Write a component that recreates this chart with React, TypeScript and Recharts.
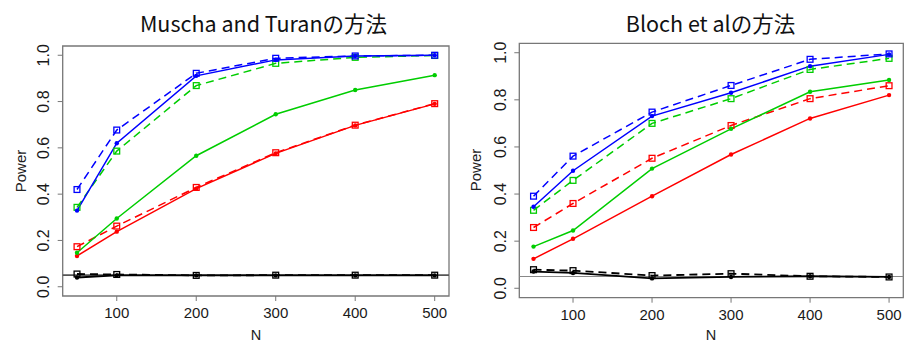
import React from "react";
import { LineChart, Line, XAxis, YAxis, ReferenceArea, ReferenceLine } from "recharts";

const sampleSizes = [50, 100, 200, 300, 400, 500];
const xTicks = [100, 200, 300, 400, 500];
const yTicks = [0, 0.2, 0.4, 0.6, 0.8, 1.0];
const alphaLevel = 0.05;
const titles = ["Muscha and Turanの方法", "Bloch et alの方法"];

// Panel 1: Muscha and Turan
const mtBlackSolid = [0.04, 0.049, 0.049, 0.049, 0.049, 0.049];
const mtBlackDashed = [0.055, 0.053, 0.049, 0.05, 0.05, 0.05];
const mtRedSolid = [0.133, 0.238, 0.424, 0.576, 0.697, 0.79];
const mtRedDashed = [0.173, 0.262, 0.429, 0.579, 0.698, 0.791];
const mtGreenSolid = [0.147, 0.295, 0.566, 0.745, 0.85, 0.914];
const mtGreenDashed = [0.343, 0.586, 0.869, 0.965, 0.991, 0.999];
const mtBlueSolid = [0.329, 0.62, 0.911, 0.98, 0.997, 1.0];
const mtBlueDashed = [0.42, 0.677, 0.922, 0.987, 0.997, 1.0];

// Panel 2: Bloch et al
const bBlackSolid = [0.071, 0.065, 0.042, 0.048, 0.051, 0.048];
const bBlackDashed = [0.079, 0.075, 0.054, 0.062, 0.051, 0.048];
const bRedSolid = [0.125, 0.21, 0.391, 0.568, 0.721, 0.82];
const bRedDashed = [0.258, 0.36, 0.552, 0.691, 0.805, 0.86];
const bGreenSolid = [0.177, 0.245, 0.508, 0.677, 0.834, 0.884];
const bGreenDashed = [0.331, 0.458, 0.7, 0.805, 0.929, 0.976];
const bBlueSolid = [0.346, 0.499, 0.731, 0.83, 0.943, 0.993];
const bBlueDashed = [0.391, 0.561, 0.748, 0.861, 0.972, 0.995];

const BLACK = "#000000";
const RED = "#FF0000";
const GREEN = "#00CD00";
const BLUE = "#0000FF";

type Series = { key: string; color: string; dashed: boolean; values: number[] };

const panel1Series: Series[] = [
  { key: "blackSolid", color: BLACK, dashed: false, values: mtBlackSolid },
  { key: "blackDashed", color: BLACK, dashed: true, values: mtBlackDashed },
  { key: "redSolid", color: RED, dashed: false, values: mtRedSolid },
  { key: "redDashed", color: RED, dashed: true, values: mtRedDashed },
  { key: "greenSolid", color: GREEN, dashed: false, values: mtGreenSolid },
  { key: "greenDashed", color: GREEN, dashed: true, values: mtGreenDashed },
  { key: "blueSolid", color: BLUE, dashed: false, values: mtBlueSolid },
  { key: "blueDashed", color: BLUE, dashed: true, values: mtBlueDashed },
];

const panel2Series: Series[] = [
  { key: "blackSolid", color: BLACK, dashed: false, values: bBlackSolid },
  { key: "blackDashed", color: BLACK, dashed: true, values: bBlackDashed },
  { key: "redSolid", color: RED, dashed: false, values: bRedSolid },
  { key: "redDashed", color: RED, dashed: true, values: bRedDashed },
  { key: "greenSolid", color: GREEN, dashed: false, values: bGreenSolid },
  { key: "greenDashed", color: GREEN, dashed: true, values: bGreenDashed },
  { key: "blueSolid", color: BLUE, dashed: false, values: bBlueSolid },
  { key: "blueDashed", color: BLUE, dashed: true, values: bBlueDashed },
];

const buildData = (series: Series[]) =>
  sampleSizes.map((n, i) => {
    const row: Record<string, number> = { N: n };
    series.forEach((s) => {
      row[s.key] = s.values[i];
    });
    return row;
  });

const TICK_FONT = "'Liberation Sans', Arial, sans-serif";

const makeDot = (color: string, square: boolean) => (props: any) => {
  const { cx, cy, index } = props;
  if (cx == null || cy == null) return <g key={index} />;
  if (square) {
    return (
      <rect
        key={index}
        x={cx - 2.9}
        y={cy - 2.9}
        width={5.8}
        height={5.8}
        fill="none"
        stroke={color}
        strokeWidth={1.3}
      />
    );
  }
  return <circle key={index} cx={cx} cy={cy} r={2.2} fill={color} stroke="none" />;
};

const YTick = (props: any) => {
  const { x, y, payload } = props;
  const tx = x - 12;
  return (
    <text
      x={tx}
      y={y}
      transform={`rotate(-90 ${tx} ${y})`}
      textAnchor="middle"
      dominantBaseline="central"
      fontFamily={TICK_FONT}
      fontSize={16}
      fill="#1a1a1a"
    >
      {Number(payload.value).toFixed(1)}
    </text>
  );
};

const XTick = (props: any) => {
  const { x, y, payload } = props;
  return (
    <text
      x={x}
      y={y + 15}
      textAnchor="middle"
      fontFamily={TICK_FONT}
      fontSize={15}
      fill="#1a1a1a"
    >
      {payload.value}
    </text>
  );
};

type PanelProps = {
  series: Series[];
  left: number;
  width: number;
  margin: { top: number; right: number; bottom: number; left: number };
  refColor: string;
  refWidth: number;
};

const Panel = ({ series, left, width, margin, refColor, refWidth }: PanelProps) => {
  const data = buildData(series);
  return (
    <div style={{ position: "absolute", left, top: 0, width, height: 345 }}>
      <LineChart width={width} height={345} data={data} margin={margin}>
        <XAxis
          dataKey="N"
          type="number"
          domain={[32, 518]}
          ticks={xTicks}
          allowDataOverflow
          axisLine={false}
          tickLine={{ stroke: "#777", strokeWidth: 1 }}
          tickSize={5}
          tickMargin={2}
          tick={<XTick />}
          height={40}
          interval={0}
        />
        <YAxis
          type="number"
          domain={[-0.04, 1.04]}
          ticks={yTicks}
          allowDataOverflow
          axisLine={false}
          tickLine={{ stroke: "#777", strokeWidth: 1 }}
          tickSize={5}
          tickMargin={2}
          tick={<YTick />}
          width={40}
          interval={0}
        />
        <ReferenceArea
          x1={32}
          x2={518}
          y1={-0.04}
          y2={1.04}
          fill="none"
          fillOpacity={0}
          stroke="#777"
          strokeWidth={1.3}
          ifOverflow="visible"
        />
        <ReferenceLine y={alphaLevel} stroke={refColor} strokeWidth={refWidth} ifOverflow="visible" />
        {series.map((s) => (
          <Line
            key={s.key}
            dataKey={s.key}
            type="linear"
            stroke={s.color}
            strokeWidth={s.color === BLACK ? 1.8 : 1.5}
            strokeDasharray={s.dashed ? "8 5" : undefined}
            dot={makeDot(s.color, s.dashed)}
            activeDot={false}
            isAnimationActive={false}
          />
        ))}
      </LineChart>
    </div>
  );
};

const textStyle = { fontFamily: TICK_FONT, fill: "#222" };

export default function App() {
  return (
    <div
      style={{
        position: "absolute",
        left: 0,
        top: 0,
        width: 905,
        height: 345,
        background: "#fff",
        overflow: "hidden",
      }}
    >
      <Panel
        series={panel1Series}
        left={0}
        width={455}
        margin={{ top: 46, right: 6, bottom: 9, left: 22.7 }}
        refColor="#555"
        refWidth={1.6}
      />
      <Panel
        series={panel2Series}
        left={455}
        width={450}
        margin={{ top: 43.3, right: 1.7, bottom: 7.3, left: 24.3 }}
        refColor="#888"
        refWidth={1.1}
      />
      <svg
        width={905}
        height={345}
        style={{ position: "absolute", left: 0, top: 0, pointerEvents: "none" }}
      >
        <text
          x={263.5}
          y={32.3}
          textAnchor="middle"
          fontFamily="'Noto Sans CJK JP', 'Noto Sans', sans-serif"
          fontSize={21.5}
          fill="#111"
        >
          {titles[0]}
        </text>
        <text
          x={710.5}
          y={32.3}
          textAnchor="middle"
          fontFamily="'Noto Sans CJK JP', 'Noto Sans', sans-serif"
          fontSize={21.5}
          fill="#111"
        >
          {titles[1]}
        </text>
        <text
          x={20}
          y={171}
          transform="rotate(-90 20 171)"
          textAnchor="middle"
          dominantBaseline="central"
          fontSize={15}
          {...textStyle}
        >
          Power
        </text>
        <text
          x={475}
          y={170}
          transform="rotate(-90 475 170)"
          textAnchor="middle"
          dominantBaseline="central"
          fontSize={15}
          {...textStyle}
        >
          Power
        </text>
        <text x={256} y={340} textAnchor="middle" fontSize={14.5} {...textStyle}>
          N
        </text>
        <text x={711} y={340} textAnchor="middle" fontSize={14.5} {...textStyle}>
          N
        </text>
      </svg>
    </div>
  );
}
